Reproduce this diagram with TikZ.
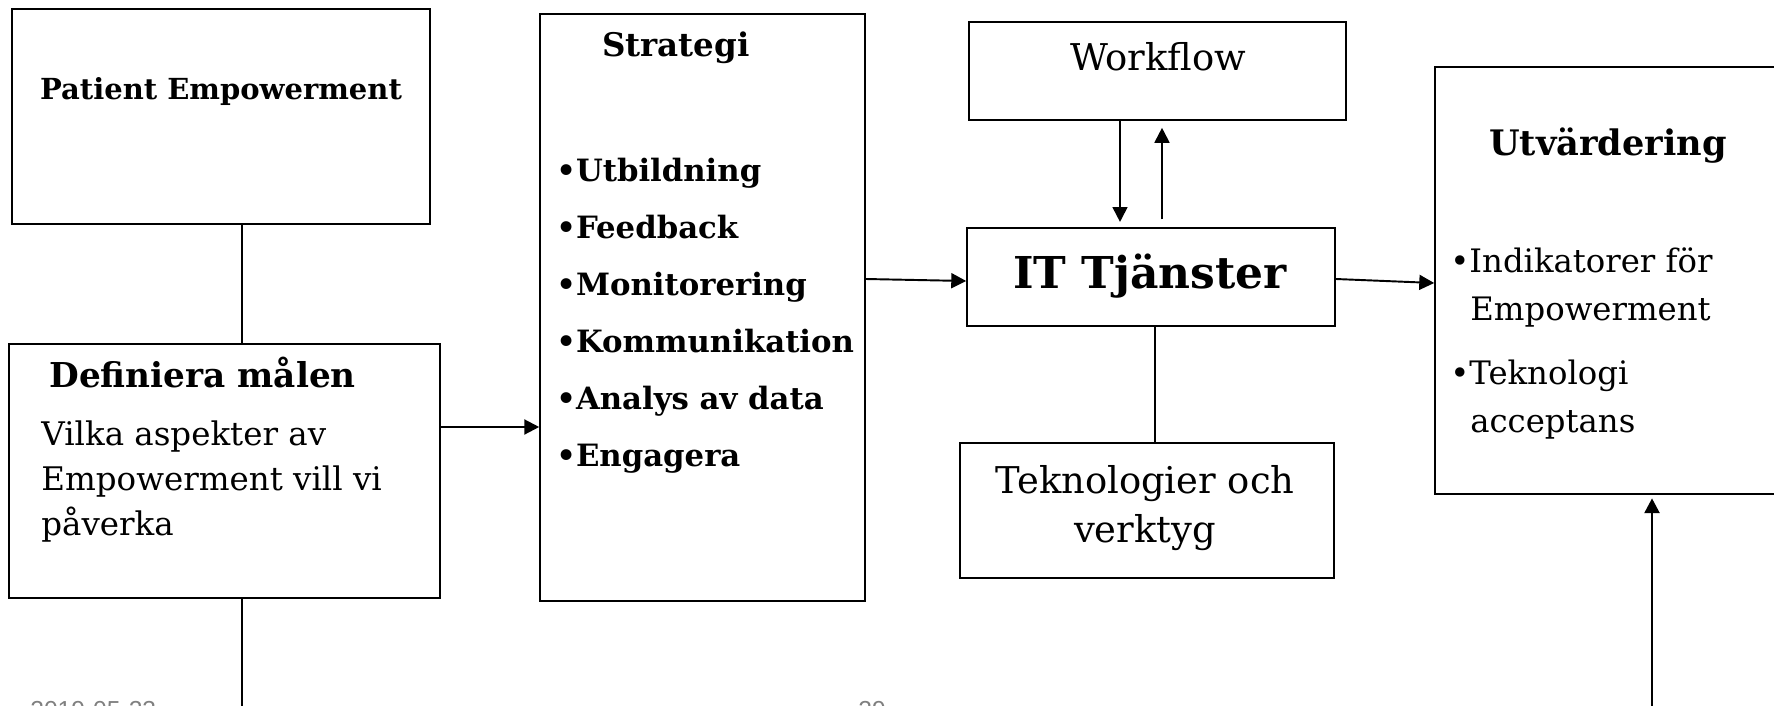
\documentclass[tikz,border=0pt]{standalone}
\usepackage{fontspec}
\setmainfont{DejaVu Serif}
\newfontfamily\footfont{Liberation Sans}
\usetikzlibrary{fit,arrows.meta}

\begin{document}
\begin{tikzpicture}[x=0.02cm, y=-0.02cm,
  box/.style={draw, line width=0.9pt, inner sep=0pt},
  txt/.style={anchor=base west, inner sep=0pt, font=\fontsize{18.5}{22}\selectfont},
  ctxt/.style={anchor=base, inner sep=0pt, font=\fontsize{21}{24}\selectfont},
  head/.style={anchor=base, inner sep=0pt, font=\fontsize{18.5}{22}\selectfont\bfseries},
  item/.style={anchor=base west, inner sep=0pt, font=\fontsize{17.5}{22}\selectfont\bfseries},
  >={Triangle[length=8.5pt, width=8.5pt]}]
	\useasboundingbox (0,0) rectangle (1774,706);

	% boxes
	\node[box, fit={(12,9) (430,224)}] (pe) {};
	\node[box, fit={(9,344) (440,598)}] (goal) {};
	\node[box, fit={(540,14) (865,601)}] (strat) {};
	\node[box, fit={(969,22) (1346,120)}] (flow) {};
	\node[box, fit={(967,228) (1335,326)}] (it) {};
	\node[box, fit={(960,443) (1334,578)}] (tech) {};
	\node[box, fit={(1435,67) (1800,494)}] (eval) {};

	% texts
	\node[head, font=\fontsize{16.5}{20}\selectfont\bfseries] (pet) at (221,100) {Patient Empowerment};
	\node[head, anchor=base west, font=\fontsize{19.5}{22}\selectfont\bfseries] (goalt) at (49,387) {Definiera målen};
	\node[txt] (g1) at (41,445) {Vilka aspekter av};
	\node[txt] (g2) at (41,490) {Empowerment vill vi};
	\node[txt] (g3) at (41,535) {påverka};

	\node[head] (stratt) at (676,57) {Strategi};
	\node[item] (s1) at (556,181) {\textbullet Utbildning};
	\node[item] (s2) at (556,238) {\textbullet Feedback};
	\node[item] (s3) at (556,295) {\textbullet Monitorering};
	\node[item] (s4) at (556,352) {\textbullet Kommunikation};
	\node[item] (s5) at (556,409) {\textbullet Analys av data};
	\node[item] (s6) at (556,466) {\textbullet Engagera};

	\node[ctxt] (flowt) at (1158,71) {Workflow};
	\node[ctxt, font=\fontsize{25}{28}\selectfont\bfseries] (itt) at (1150,288) {IT Tjänster};
	\node[ctxt] (tech1) at (1145,493) {Teknologier och};
	\node[ctxt] (tech2) at (1145,542) {verktyg};

	\node[head, font=\fontsize{20}{24}\selectfont\bfseries] (evalt) at (1608,155) {Utvärdering};
	\node[txt, font=\fontsize{18.4}{22}\selectfont] (e1) at (1450,272) {\textbullet Indikatorer för};
	\node[txt, font=\fontsize{18.4}{22}\selectfont] (e2) at (1470,320) {Empowerment};
	\node[txt, font=\fontsize{18.4}{22}\selectfont] (e3) at (1450,384) {\textbullet Teknologi};
	\node[txt, font=\fontsize{18.4}{22}\selectfont] (e4) at (1470,432) {acceptans};

	\node[anchor=north west, inner sep=0pt, text=gray, font=\footfont\fontsize{14}{16}\selectfont] (date) at (30,701) {2019-05-23};
	\node[anchor=north west, inner sep=0pt, text=gray, font=\footfont\fontsize{14}{16}\selectfont] (page) at (858,701) {29};

	% connectors
	\coordinate (lx) at (242,0);
	\coordinate (gb) at (242,730);
	\coordinate (ya) at (0,427);
	\coordinate (yb) at (0,279);
	\coordinate (yc) at (0,281);
	\coordinate (yd) at (0,283);
	\coordinate (dx) at (1120,0);
	\coordinate (ux) at (1162,0);
	\coordinate (vt) at (1155,0);
	\coordinate (ex) at (1652,730);

	\path[line width=0.6pt] (pe.south -| lx) edge (goal.north -| lx);
	\path[line width=1pt] (goal.south -| lx) edge (gb);
	\path[->, line width=1.3pt] (goal.east |- ya) edge (strat.west |- ya);
	\path[->, line width=1.1pt] (strat.east |- yb) edge (it.west |- yc);
	\path[->, line width=1.1pt] (it.east |- yb) edge (eval.west |- yd);
	\path[->, line width=1.1pt, shorten >=3pt] (flow.south -| dx) edge (it.north -| dx);
	\path[->, line width=1.1pt, shorten <=4.5pt, shorten >=4pt] (it.north -| ux) edge (flow.south -| ux);
	\path[line width=1pt] (it.south -| vt) edge (tech.north -| vt);
	\path[->, line width=1.6pt, shorten >=2pt] (ex) edge (eval.south -| ex);
\end{tikzpicture}
\end{document}
